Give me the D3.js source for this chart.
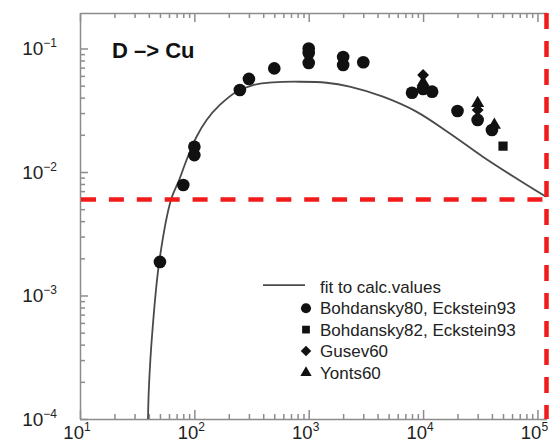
<!DOCTYPE html>
<html>
<head>
<meta charset="utf-8">
<script src="https://cdn.jsdelivr.net/npm/d3@7"></script>
<style>
body { margin: 0; background: #fff; }
svg { display: block; font-family: "Liberation Sans", Arial, Helvetica, sans-serif; }
</style>
</head>
<body>
<div id="target"></div>
<script>
var width = 553,
    height = 444;

// axis decades
var xMajor = [10, 100, 1000, 10000, 100000];
var yMajor = [1e-4, 1e-3, 1e-2, 1e-1];
var xLabels = ["1", "2", "3", "4", "5"];
var yLabels = ["\u22124", "\u22123", "\u22122", "\u22121"];

// fit to calc.values
var fitE = [39.3, 40.1, 42.9, 49.3, 62.4, 73.6, 85.5, 104.5, 128, 167, 234, 327, 488, 834, 1428, 2282, 4460, 8730, 17030, 33270, 65100, 119000];
var fitY = [1e-4, 1.85e-4, 5.06e-4, 1.87e-3, 5.93e-3, 8.6e-3, 0.0125, 0.0193, 0.0264, 0.0349, 0.0447, 0.0506, 0.0532, 0.0538, 0.0528, 0.0491, 0.0407, 0.0308, 0.0206, 0.0133, 0.0089, 0.0063];

// Bohdansky80, Eckstein93 (circles)
var bohd80E = [50, 80, 100, 100, 250, 300, 500, 1000, 1000, 1000, 2000, 2000, 3000, 8000, 10000, 12000, 20000, 30000, 40000];
var bohd80Y = [1.87e-3, 7.85e-3, 0.016, 0.0137, 0.0461, 0.0567, 0.069, 0.1, 0.092, 0.0763, 0.0853, 0.0735, 0.0773, 0.0438, 0.047, 0.0447, 0.0312, 0.0264, 0.0219];
// Bohdansky82, Eckstein93 (squares)
var bohd82E = [50000];
var bohd82Y = [0.0162];
// Gusev60 (diamonds)
var gusevE = [10000, 30000];
var gusevY = [0.061, 0.0318];
// Yonts60 (triangles)
var yontsE = [10000, 30000, 42000];
var yontsY = [0.053, 0.036, 0.024];

var legendNames = ["fit to calc.values", "Bohdansky80, Eckstein93", "Bohdansky82, Eckstein93", "Gusev60", "Yonts60"];

// red marker lines
var markE = 1.2e5;
var markY = 6e-3;

var svg = d3.select('#target').append('svg')
    .attr('width', width)
    .attr('height', height);

var x = d3.scaleLog().domain([10, 1.2e5]).range([80, 546.5]);
var y = d3.scaleLog().domain([1e-4, 0.1938]).range([419, 13]);

function minors(majors) {
    var out = [];
    majors.forEach(function (d) {
        for (var k = 2; k <= 9; k++) out.push(d * k);
    });
    return out;
}
var xMinor = minors(xMajor).filter(function (d) { return d < 1.2e5; });
var yMinor = minors(yMajor).filter(function (d) { return d < 0.1938; });

var axisColor = '#8c8c8c';

function styleAxis(g) {
    g.selectAll('path, line').attr('stroke', axisColor).attr('stroke-width', 1.5);
    g.selectAll('text').remove();
}

// bottom
svg.append('g').attr('transform', 'translate(0,419)')
    .call(d3.axisTop(x).tickValues(xMajor).tickSize(9).tickSizeOuter(0).tickFormat(''))
    .call(styleAxis);
svg.append('g').attr('transform', 'translate(0,419)')
    .call(d3.axisTop(x).tickValues(xMinor).tickSize(5).tickSizeOuter(0).tickFormat(''))
    .call(styleAxis).select('.domain').remove();
// top
svg.append('g').attr('transform', 'translate(0,13)')
    .call(d3.axisBottom(x).tickValues(xMajor).tickSize(9).tickSizeOuter(0).tickFormat(''))
    .call(styleAxis);
svg.append('g').attr('transform', 'translate(0,13)')
    .call(d3.axisBottom(x).tickValues(xMinor).tickSize(5).tickSizeOuter(0).tickFormat(''))
    .call(styleAxis).select('.domain').remove();
// left
svg.append('g').attr('transform', 'translate(80,0)')
    .call(d3.axisRight(y).tickValues(yMajor).tickSize(8).tickSizeOuter(0).tickFormat(''))
    .call(styleAxis);
svg.append('g').attr('transform', 'translate(80,0)')
    .call(d3.axisRight(y).tickValues(yMinor).tickSize(5).tickSizeOuter(0).tickFormat(''))
    .call(styleAxis).select('.domain').remove();

// tick labels with superscripts
function powerLabel(sel, sup) {
    sel.append('tspan').text('10');
    sel.append('tspan').attr('font-size', 12).attr('dy', -8).text(sup);
}
xMajor.forEach(function (d, i) {
    svg.append('text')
        .attr('x', x(d) - 3)
        .attr('y', 439)
        .attr('text-anchor', 'middle')
        .attr('font-size', 18.5)
        .attr('fill', '#222')
        .call(powerLabel, xLabels[i]);
});
yMajor.forEach(function (d, i) {
    svg.append('text')
        .attr('x', 57)
        .attr('y', y(d) + 7)
        .attr('text-anchor', 'end')
        .attr('font-size', 19)
        .attr('fill', '#222')
        .call(powerLabel, yLabels[i]);
});

// title
svg.append('text')
    .attr('x', 112)
    .attr('y', 58)
    .attr('font-size', 22)
    .attr('font-weight', 'bold')
    .attr('fill', '#111')
    .text('D \u2013> Cu');

// fit curve
svg.append('clipPath').attr('id', 'plotclip')
    .append('rect').attr('x', 80).attr('y', 13).attr('width', 470).attr('height', 406);

var fit = fitE.map(function (d, i) { return [d, fitY[i]]; });
var line = d3.line()
    .x(function (d) { return x(d[0]); })
    .y(function (d) { return y(d[1]); })
    .curve(d3.curveCatmullRom.alpha(0.5));

svg.append('path')
    .datum(fit)
    .attr('clip-path', 'url(#plotclip)')
    .attr('d', line)
    .attr('fill', 'none')
    .attr('stroke', '#4a4a4a')
    .attr('stroke-width', 1.8);

// data points
function drawPoints(E, Y, type, size, rot) {
    var pts = E.map(function (d, i) { return [d, Y[i]]; });
    svg.append('g').selectAll('path')
        .data(pts)
        .enter()
        .append('path')
        .attr('d', d3.symbol().type(type).size(size))
        .attr('transform', function (d) {
            return 'translate(' + x(d[0]) + ',' + y(d[1]) + ') rotate(' + (rot || 0) + ')';
        })
        .attr('fill', '#111');
}
drawPoints(yontsE, yontsY, d3.symbolTriangle, 75);
drawPoints(gusevE, gusevY, d3.symbolSquare, 70, 45);
drawPoints(bohd80E, bohd80Y, d3.symbolCircle, 125);
drawPoints(bohd82E, bohd82Y, d3.symbolSquare, 85);

// legend
var legend = svg.append('g');
var rowY = [286.7, 308.3, 329.6, 351, 372.7];
legend.append('line')
    .attr('x1', 263).attr('x2', 305)
    .attr('y1', rowY[0] - 1.5).attr('y2', rowY[0] - 1.5)
    .attr('stroke', '#4a4a4a').attr('stroke-width', 1.8);
var legendSymbols = [null, [d3.symbolCircle, 80, 0], [d3.symbolSquare, 60, 0], [d3.symbolSquare, 55, 45], [d3.symbolTriangle, 55, 0]];
legendSymbols.forEach(function (s, i) {
    if (!s) return;
    legend.append('path')
        .attr('d', d3.symbol().type(s[0]).size(s[1]))
        .attr('transform', 'translate(306,' + rowY[i] + ') rotate(' + s[2] + ')')
        .attr('fill', '#111');
});
legendNames.forEach(function (name, i) {
    legend.append('text')
        .attr('x', 320)
        .attr('y', rowY[i] + 6)
        .attr('font-size', 17)
        .attr('fill', '#222')
        .text(name);
});

// red dashed marker lines
svg.append('line')
    .attr('x1', 81).attr('x2', 548)
    .attr('y1', y(markY)).attr('y2', y(markY))
    .attr('stroke', '#f21a1a').attr('stroke-width', 4.5)
    .attr('stroke-dasharray', '15,12.9');
svg.append('line')
    .attr('x1', x(markE)).attr('x2', x(markE))
    .attr('y1', 13).attr('y2', 419)
    .attr('stroke', '#f21a1a').attr('stroke-width', 4.5)
    .attr('stroke-dasharray', '16,12');
</script>
</body>
</html>
